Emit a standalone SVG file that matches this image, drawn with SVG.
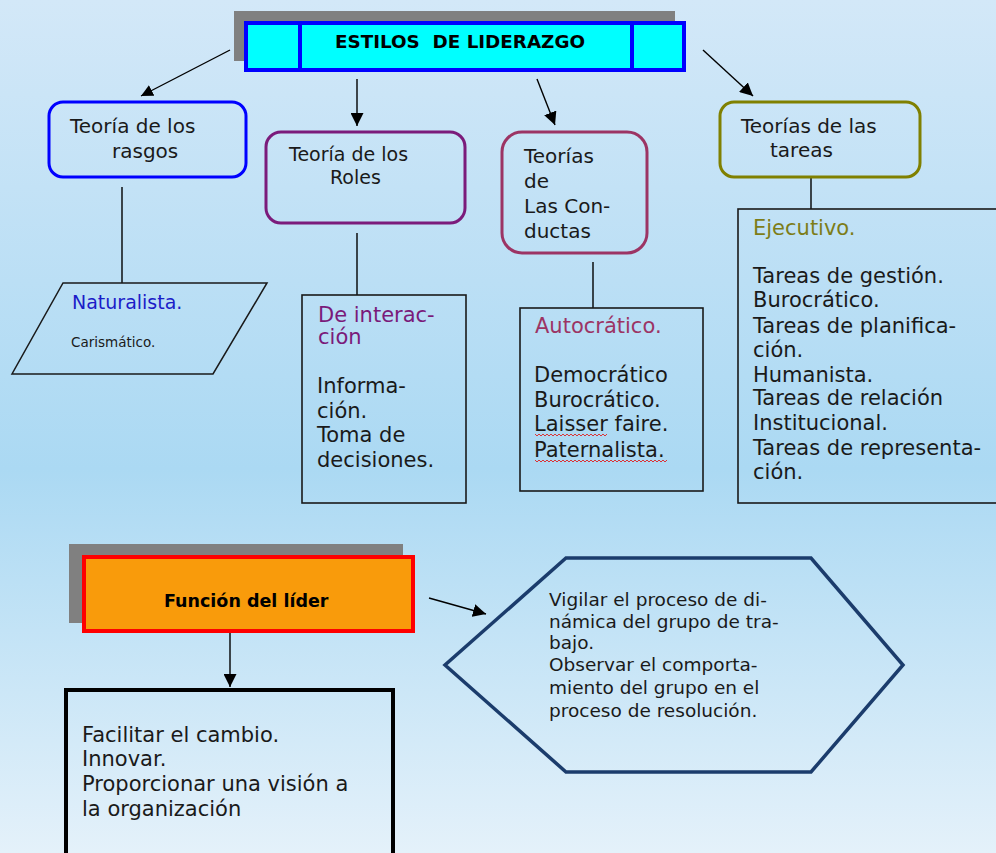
<svg xmlns="http://www.w3.org/2000/svg" width="996" height="853" viewBox="0 0 996 853">
<defs>
<linearGradient id="bg" x1="0" y1="0" x2="0" y2="1">
<stop offset="0" stop-color="#d3e8f8"/>
<stop offset="0.55" stop-color="#abd9f3"/>
<stop offset="1" stop-color="#e4f1fa"/>
</linearGradient>
<marker id="ah" viewBox="0 0 10 10" refX="10" refY="5" markerWidth="12" markerHeight="12" markerUnits="userSpaceOnUse" orient="auto">
<path d="M0,0 L10,5 L0,10 Z" fill="#000"/>
</marker>
<marker id="ahb" viewBox="0 0 10 10" refX="10" refY="5" markerWidth="13" markerHeight="13" markerUnits="userSpaceOnUse" orient="auto">
<path d="M0,0 L10,5 L0,10 Z" fill="#000"/>
</marker>
</defs>
<style>
text{font-family:"DejaVu Sans","Verdana",sans-serif;fill:#1a1a1a;white-space:pre}
.b{font-size:21px}
.n{font-size:20px}
.h{font-size:18.5px}
.conn{stroke:#000;stroke-width:1.4;fill:none}
.box{fill:none;stroke:#1a1a1a;stroke-width:1.6}
.wavy{fill:none;stroke:#e02020;stroke-width:0.9}
</style>
<rect width="996" height="853" fill="url(#bg)"/>

<g id="title">
<rect x="234" y="11" width="441" height="50" fill="#808080"/>
<rect x="246" y="23" width="438" height="47" fill="#00ffff" stroke="#0000ff" stroke-width="4"/>
<line x1="300" y1="23" x2="300" y2="70" stroke="#0000ff" stroke-width="4"/>
<line x1="632" y1="23" x2="632" y2="70" stroke="#0000ff" stroke-width="4"/>
<text x="335" y="48" font-size="17" font-weight="bold" textLength="250" lengthAdjust="spacingAndGlyphs" style="fill:#000">ESTILOS  DE LIDERAZGO</text>
</g>

<g id="connectors">
<line class="conn" x1="230" y1="50" x2="141" y2="96" marker-end="url(#ah)"/>
<line class="conn" x1="357" y1="79" x2="357" y2="126" marker-end="url(#ahb)"/>
<line class="conn" x1="537" y1="79" x2="555" y2="125" marker-end="url(#ahb)"/>
<line class="conn" x1="703" y1="50" x2="753" y2="96" marker-end="url(#ahb)"/>
<line class="conn" x1="122" y1="187" x2="122" y2="283"/>
<line class="conn" x1="357" y1="233" x2="357" y2="295"/>
<line class="conn" x1="593" y1="262" x2="593" y2="308"/>
<line class="conn" x1="811" y1="178" x2="811" y2="209"/>
<line class="conn" x1="230" y1="628" x2="230" y2="687" marker-end="url(#ahb)"/>
<line class="conn" x1="429" y1="598" x2="486" y2="614" marker-end="url(#ahb)"/>
</g>

<g id="rasgos">
<rect x="49" y="102" width="197" height="75" rx="14" fill="none" stroke="#0000ff" stroke-width="3"/>
<text class="n" x="70" y="133">Teoría de los</text>
<text class="n" x="112" y="158">rasgos</text>
</g>

<g id="naturalista">
<polygon points="63,283 267,283 213,374 12,374" fill="none" stroke="#1a1a1a" stroke-width="1.5"/>
<text x="72" y="309" font-size="19" style="fill:#1c1cc8">Naturalista.</text>
<text x="71" y="347" font-size="13.5">Carismático.</text>
</g>

<g id="roles">
<rect x="266" y="132" width="199" height="91" rx="15" fill="none" stroke="#7b1b7b" stroke-width="3"/>
<text x="289" y="161" font-size="19">Teoría de los</text>
<text x="330" y="184" font-size="19">Roles</text>
</g>

<g id="interaccion">
<rect class="box" x="302" y="295" width="164" height="208"/>
<text class="b" x="318" y="322" style="fill:#7a1a7a">De interac-</text>
<text class="b" x="318" y="344" style="fill:#7a1a7a">ción</text>
<text class="b" x="317" y="393">Informa-</text>
<text class="b" x="317" y="418">ción.</text>
<text class="b" x="317" y="442">Toma de</text>
<text class="b" x="317" y="467">decisiones.</text>
</g>

<g id="conductas">
<rect x="502" y="132" width="145" height="121" rx="20" fill="none" stroke="#9c3464" stroke-width="3"/>
<text class="n" x="524" y="163">Teorías</text>
<text class="n" x="524" y="188">de</text>
<text class="n" x="524" y="213">Las Con-</text>
<text class="n" x="524" y="238">ductas</text>
</g>

<g id="autocratico">
<rect class="box" x="520" y="308" width="183" height="183"/>
<text class="b" x="535" y="333" style="fill:#9c3464">Autocrático.</text>
<text class="b" x="534" y="382">Democrático</text>
<text class="b" x="534" y="407">Burocrático.</text>
<text class="b" x="534" y="431">Laisser faire.</text>
<text class="b" x="534" y="457">Paternalista.</text>
<path class="wavy" d="M535,434 l2,2 l2,-2 l2,2 l2,-2 l2,2 l2,-2 l2,2 l2,-2 l2,2 l2,-2 l2,2 l2,-2 l2,2 l2,-2 l2,2 l2,-2 l2,2 l2,-2 l2,2 l2,-2 l2,2 l2,-2 l2,2 l2,-2 l2,2 l2,-2 l2,2 l2,-2 l2,2 l2,-2 l2,2 l2,-2 l2,2 l2,-2 l2,2 l2,-2"/>
<path class="wavy" d="M535,460 l2,2 l2,-2 l2,2 l2,-2 l2,2 l2,-2 l2,2 l2,-2 l2,2 l2,-2 l2,2 l2,-2 l2,2 l2,-2 l2,2 l2,-2 l2,2 l2,-2 l2,2 l2,-2 l2,2 l2,-2 l2,2 l2,-2 l2,2 l2,-2 l2,2 l2,-2 l2,2 l2,-2 l2,2 l2,-2 l2,2 l2,-2 l2,2 l2,-2 l2,2 l2,-2 l2,2 l2,-2 l2,2 l2,-2 l2,2 l2,-2 l2,2 l2,-2 l2,2 l2,-2 l2,2 l2,-2 l2,2 l2,-2 l2,2 l2,-2 l2,2 l2,-2 l2,2 l2,-2 l2,2 l2,-2 l2,2 l2,-2 l2,2 l2,-2 l2,2 l2,-2"/>
</g>

<g id="tareas">
<rect x="720" y="102" width="200" height="75" rx="14" fill="none" stroke="#808000" stroke-width="3"/>
<text class="n" x="741" y="133">Teorías de las</text>
<text class="n" x="770" y="157">tareas</text>
</g>

<g id="ejecutivo">
<rect class="box" x="738" y="209" width="270" height="294"/>
<text class="b" x="753" y="235" style="fill:#7d7d18">Ejecutivo.</text>
<text class="b" x="753" y="283">Tareas de gestión.</text>
<text class="b" x="753" y="307">Burocrático.</text>
<text class="b" x="753" y="333">Tareas de planifica-</text>
<text class="b" x="753" y="357">ción.</text>
<text class="b" x="753" y="382">Humanista.</text>
<text class="b" x="753" y="405">Tareas de relación</text>
<text class="b" x="753" y="430">Institucional.</text>
<text class="b" x="753" y="455">Tareas de representa-</text>
<text class="b" x="753" y="479">ción.</text>
</g>

<g id="funcion">
<rect x="69" y="544" width="334" height="79" fill="#808080"/>
<rect x="84" y="557" width="329" height="74" fill="#f99b0b" stroke="#ff0000" stroke-width="4"/>
<text x="164" y="607" font-size="17.5" font-weight="bold" style="fill:#000">Función del líder</text>
</g>

<g id="facilitar">
<rect x="66" y="690" width="327" height="180" fill="none" stroke="#000" stroke-width="4"/>
<text class="b" x="82" y="742">Facilitar el cambio.</text>
<text class="b" x="82" y="766">Innovar.</text>
<text class="b" x="82" y="791">Proporcionar una visión a</text>
<text class="b" x="82" y="816">la organización</text>
</g>

<g id="vigilar">
<polygon points="566,558 811,558 903,665 811,772 566,772 445,665" fill="none" stroke="#1b3c6c" stroke-width="3.5"/>
<text class="h" x="549" y="606">Vigilar el proceso de di-</text>
<text class="h" x="549" y="628">námica del grupo de tra-</text>
<text class="h" x="549" y="649">bajo.</text>
<text class="h" x="549" y="671">Observar el comporta-</text>
<text class="h" x="549" y="694">miento del grupo en el</text>
<text class="h" x="549" y="717">proceso de resolución.</text>
</g>
</svg>
